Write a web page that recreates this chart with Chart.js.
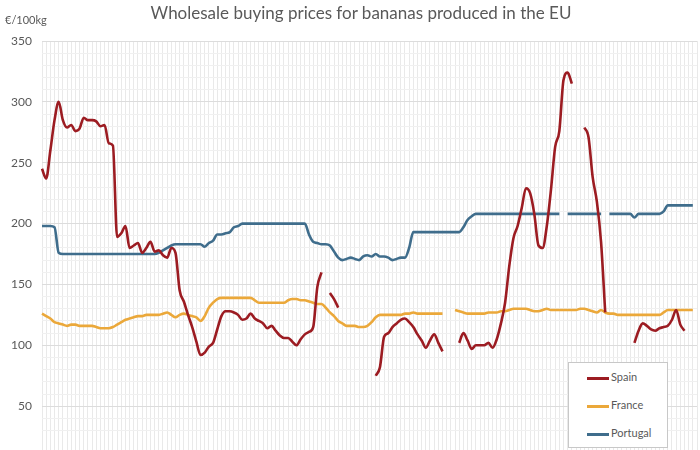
<!DOCTYPE html>
<html>
<head>
<meta charset="utf-8">
<script src="https://cdn.jsdelivr.net/npm/chart.js@4/dist/chart.umd.min.js"></script>
<style>
    body { margin: 0; background: #fff; overflow: hidden; }
    #wrap { position: relative; width: 700px; height: 450px; }
    #title { position: absolute; left: 0; width: 722px; top: 2px; text-align: center; font: 17px Lato, sans-serif; color: #595959; }
    #unit { position: absolute; left: 5px; top: 13px; font: 11px Lato, sans-serif; color: #595959; }
    #legend { position: absolute; left: 568px; top: 362px; width: 98px; height: 84px; background: #fff; border: 1px solid #c8c8c8; }
    .item { position: absolute; left: 18px; font: 11px Lato, sans-serif; color: #595959; line-height: 14px; }
    .item span { display: inline-block; width: 22px; height: 3px; vertical-align: middle; margin-right: 2px; }
</style>
</head>
<body>
<div id="wrap">
    <canvas id="chart" width="700" height="450"></canvas>
    <div id="title">Wholesale buying prices for bananas produced in the EU</div>
    <div id="unit">€/100kg</div>
    <div id="legend"></div>
</div>
<script>
// weekly prices, €/100kg
var weeks = [];
for (var w = 1; w <= 158; w++) weeks.push('W' + w);

var spain = [
    245, 237, 260, 285, 300, 285, 279, 281, 276, 278,
    287, 285, 285, 284, 280, 281, 266, 264, 189, 192,
    198, 180, 182, 184, 176, 180, 185, 177, 178, 174,
    172, 180, 176, 145, 136, 125, 115, 103, 92, 94,
    99, 102, 113, 124, 128, 128, 127, 125, 121, 122,
    126, 122, 120, 118, 114, 116, 112, 108, 106, 106,
    103, 100, 105, 109, 111, 115, 148, 160, null, 143,
    138, 131, null, null, null, null, null, null, null, null,
    75, 82, 107, 110, 115, 118, 121, 122, 119, 115,
    109, 104, 98, 104, 109, 102, 95, null, null, null,
    102, 110, 104, 97, 100, 100, 100, 102, 98, 105,
    118, 135, 165, 188, 198, 213, 229, 225, 208, 182,
    180, 198, 228, 263, 276, 318, 324, 315, null, null,
    279, 271, 238, 218, 185, 127, null, null, null, null,
    null, null, 102, 112, 118, 116, 113, 112, 114, 115,
    116, 121, 129, 117, 112, null, null, null
];
var france = [
    126, 124, 122, 119, 118, 117, 116, 117, 117, 116,
    116, 116, 116, 115, 114, 114, 114, 115, 117, 119,
    121, 122, 123, 124, 124, 125, 125, 125, 125, 126,
    127, 125, 123, 125, 126, 125, 124, 123, 120, 124,
    131, 135, 138, 139, 139, 139, 139, 139, 139, 139,
    139, 137, 135, 135, 135, 135, 135, 135, 135, 137,
    138, 138, 137, 137, 136, 135, 134, 134, 131, 127,
    124, 120, 118, 116, 116, 116, 115, 115, 116, 119,
    123, 125, 125, 125, 125, 125, 125, 126, 126, 127,
    126, 126, 126, 126, 126, 126, 126, null, null, 129,
    128, 127, 126, 126, 126, 126, 126, 127, 127, 127,
    128, 128, 129, 130, 130, 130, 130, 129, 128, 128,
    129, 130, 129, 129, 129, 129, 129, 129, 129, 130,
    130, 129, 128, 127, 129, 127, 126, 126, 125, 125,
    125, 125, 125, 125, 125, 125, 125, 125, 125, 127,
    129, 129, 129, 129, 129, 129, 129, null
];
var portugal = [
    198, 198, 198, 197, 176, 175, 175, 175, 175, 175,
    175, 175, 175, 175, 175, 175, 175, 175, 175, 175,
    175, 175, 175, 175, 175, 175, 175, 175, 176, 178,
    180, 182, 183, 183, 183, 183, 183, 183, 183, 181,
    184, 186, 191, 191, 192, 193, 197, 198, 200, 200,
    200, 200, 200, 200, 200, 200, 200, 200, 200, 200,
    200, 200, 200, 200, 191, 185, 184, 183, 183, 182,
    177, 172, 170, 171, 172, 171, 170, 173, 174, 173,
    175, 173, 173, 172, 170, 171, 172, 172, 180, 193,
    193, 193, 193, 193, 193, 193, 193, 193, 193, 193,
    193, 197, 203, 206, 208, 208, 208, 208, 208, 208,
    208, 208, 208, 208, 208, 208, 208, 208, 208, 208,
    208, 208, 208, 208, 208, null, 208, 208, 208, 208,
    208, 208, 208, 208, 208, null, 208, 208, 208, 208,
    208, 208, 205, 208, 208, 208, 208, 208, 208, 210,
    215, 215, 215, 215, 215, 215, 215, null
];

var series = [
    { label: 'Spain', data: spain, color: '#9c1c22' },
    { label: 'France', data: france, color: '#eba83a' },
    { label: 'Portugal', data: portugal, color: '#3f6d8c' }
];

var datasets = series.map(function (s) {
    return {
        label: s.label,
        data: s.data,
        borderColor: s.color,
        backgroundColor: s.color,
        borderWidth: 2.6,
        pointRadius: 0,
        cubicInterpolationMode: 'monotone',
        spanGaps: false,
        fill: false
    };
});

var chart = new Chart(document.getElementById('chart'), {
    type: 'line',
    data: { labels: weeks, datasets: datasets },
    options: {
        responsive: false,
        animation: false,
        layout: { padding: { top: 41, right: 3, left: 0, bottom: 0 } },
        plugins: { legend: { display: false }, title: { display: false }, tooltip: { enabled: false } },
        scales: {
            x: {
                ticks: { display: false },
                grid: { color: '#e9e9e9', drawTicks: false },
                border: { display: false },
                afterFit: function (scale) { scale.height = 0; }
            },
            y: {
                min: 14,
                max: 350,
                afterBuildTicks: function (scale) {
                    scale.ticks = scale.ticks.filter(function (t) { return t.value % 10 === 0; });
                },
                afterFit: function (scale) { scale.width = 42; scale.paddingBottom = 0; scale.paddingTop = 0; },
                ticks: {
                    stepSize: 10,
                    autoSkip: false,
                    padding: 10,
                    color: '#595959',
                    font: { family: 'Lato', size: 12 },
                    callback: function (v) { return v % 50 === 0 ? v : ''; }
                },
                grid: {
                    drawTicks: false,
                    color: function (ctx) { return ctx.tick && ctx.tick.value % 50 === 0 ? '#dcdcdc' : '#f0f0f0'; }
                },
                border: { display: false }
            }
        }
    }
});

// legend box drawn over the plot, bottom right
var legend = document.getElementById('legend');
chart.data.datasets.forEach(function (ds, i) {
    var item = document.createElement('div');
    item.className = 'item';
    item.style.top = (7 + i * 28) + 'px';
    item.innerHTML = '<span style="background:' + ds.borderColor + '"></span>' + ds.label;
    legend.appendChild(item);
});
</script>
</body>
</html>
